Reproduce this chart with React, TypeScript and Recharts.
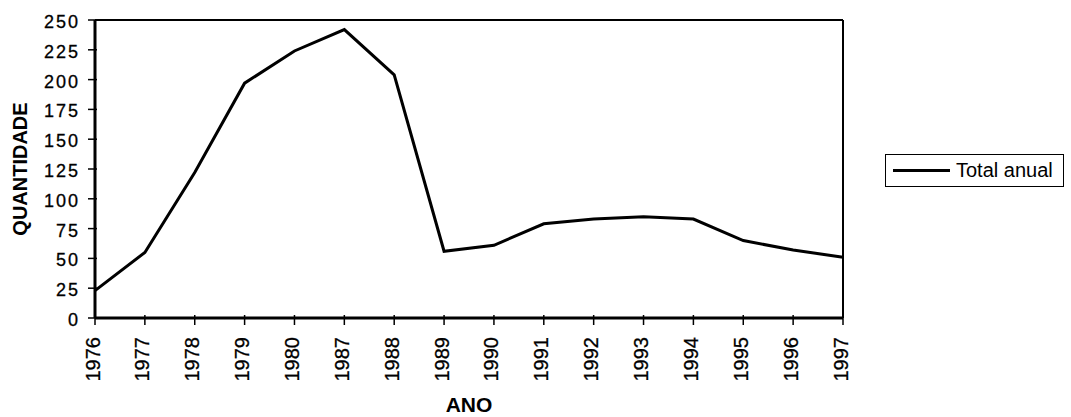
import React from 'react';
import { LineChart, Line, XAxis, YAxis, ReferenceLine, Legend } from 'recharts';

const years = ['1976', '1977', '1978', '1979', '1980', '1987', '1988', '1989', '1990', '1991', '1992', '1993', '1994', '1995', '1996', '1997'];
const totals = [23, 55, 122, 197, 224, 242, 204, 56, 61, 79, 83, 85, 83, 65, 57, 51];
const yTicks = [0, 25, 50, 75, 100, 125, 150, 175, 200, 225, 250];
const seriesName = 'Total anual';
const xTitle = 'ANO';
const yTitle = 'QUANTIDADE';

const data = years.map((y, i) => ({ ano: y, total: totals[i] }));

const FONT = '"Liberation Sans", Arial, sans-serif';

const XTick = (props: any) => {
  const { x, y, payload } = props;
  return (
    <g>
      <line x1={x} x2={x} y1={y - 3} y2={y + 7} stroke="#000" strokeWidth={1.5} />
      <g transform={`translate(${x - 2.5},${y + 19}) rotate(-90)`}>
        <text x={0} y={0} textAnchor="end" dominantBaseline="central" fontSize={20} stroke="#000" strokeWidth={0.3} fontFamily={FONT} fill="#000">
          {payload.value}
        </text>
      </g>
    </g>
  );
};

const YTick = (props: any) => {
  const { x, y, payload } = props;
  return (
    <g>
      <line x1={x - 7} x2={x + 2} y1={y} y2={y} stroke="#000" strokeWidth={1.5} />
      <text x={x - 15} y={y + 2} textAnchor="end" dominantBaseline="central" fontSize={18} letterSpacing={2} stroke="#000" strokeWidth={0.3} fontFamily={FONT} fill="#000">
        {payload.value}
      </text>
    </g>
  );
};

const YLabel = (props: any) => {
  const vb = props.viewBox || { x: 35, y: 20, width: 60, height: 298 };
  const cx = vb.x - 15;
  const cy = vb.y + vb.height / 2;
  return (
    <text x={cx} y={cy} transform={`rotate(-90, ${cx}, ${cy})`} textAnchor="middle" dominantBaseline="central" fontSize={20} fontWeight="bold" fontFamily={FONT} fill="#000">
      {yTitle}
    </text>
  );
};

const XLabel = (props: any) => {
  const vb = props.viewBox || { x: 95, y: 318, width: 748, height: 99 };
  const cx = vb.x + vb.width / 2;
  return (
    <text x={cx} y={vb.y + 86} textAnchor="middle" dominantBaseline="central" fontSize={21} fontWeight="bold" fontFamily={FONT} fill="#000">
      {xTitle}
    </text>
  );
};

const LegendBox = () => (
  <div
    style={{
      boxSizing: 'border-box',
      width: 179,
      height: 33,
      border: '1px solid #000',
      display: 'flex',
      alignItems: 'center',
      fontFamily: FONT,
      fontSize: 20,
      color: '#000',
      background: '#fff',
    }}
  >
    <div style={{ marginLeft: 7, width: 57, height: 3, background: '#000' }} />
    <span style={{ marginLeft: 6, whiteSpace: 'nowrap' }}>{seriesName}</span>
  </div>
);

export default function App() {
  return (
    <div style={{ position: 'absolute', left: 0, top: 0, width: 1071, height: 417, background: '#fff' }}>
      <LineChart
        width={1071}
        height={417}
        data={data}
        margin={{ top: 20, right: 228, bottom: 0, left: 35 }}
      >
        <XAxis
          dataKey="ano"
          type="category"
          height={99}
          interval={0}
          tickSize={0}
          tickMargin={0}
          padding={{ left: 0, right: 0 }}
          axisLine={{ stroke: '#000', strokeWidth: 3 }}
          tickLine={false}
          tick={<XTick />}
          label={<XLabel />}
        />
        <YAxis
          width={60}
          domain={[0, 250]}
          ticks={yTicks}
          interval={0}
          tickSize={0}
          tickMargin={0}
          axisLine={{ stroke: '#000', strokeWidth: 3 }}
          tickLine={false}
          tick={<YTick />}
          label={<YLabel />}
        />
        <ReferenceLine y={250} stroke="#000" strokeWidth={2} />
        <ReferenceLine x="1997" stroke="#000" strokeWidth={2} />
        <Legend
          layout="horizontal"
          verticalAlign="middle"
          align="center"
          content={<LegendBox />}
          wrapperStyle={{ left: 885, top: 154, width: 179, height: 33 }}
        />
        <Line
          type="linear"
          dataKey="total"
          name={seriesName}
          stroke="#000"
          strokeWidth={3}
          dot={false}
          activeDot={false}
          isAnimationActive={false}
        />
      </LineChart>
    </div>
  );
}
